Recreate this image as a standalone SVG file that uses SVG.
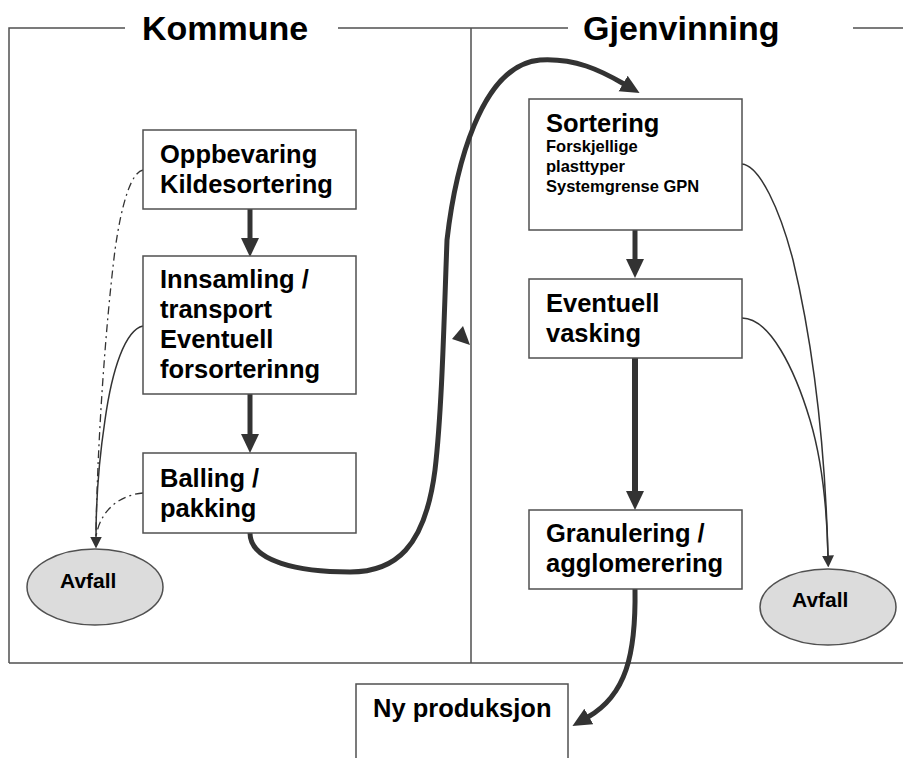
<svg xmlns="http://www.w3.org/2000/svg" width="903" height="758" viewBox="0 0 903 758">
<style>
  .frame{fill:none;stroke:#505050;stroke-width:1.5}
  .box{fill:#fff;stroke:#505050;stroke-width:1.5}
  .ell{fill:#dcdcdc;stroke:#505050;stroke-width:1.5}
  .t{font-family:"Liberation Sans",Arial,sans-serif;font-weight:bold;fill:#000}
  .big{font-size:34px}
  .m{font-size:25.5px}
  .s{font-size:16.5px}
  .av{font-size:21px}
  .thick{fill:none;stroke:#333;stroke-width:5}
  .thin{fill:none;stroke:#333;stroke-width:1.5}
  .dd{fill:none;stroke:#333;stroke-width:1.3;stroke-dasharray:8 4 2 4}
</style>
<defs>
  <marker id="ah" markerUnits="userSpaceOnUse" markerWidth="20" markerHeight="20" viewBox="0 0 20 20" refX="1" refY="10" orient="auto">
    <path d="M0,1 L19,10 L0,19 z" fill="#333"/>
  </marker>
  <marker id="ahs" markerUnits="userSpaceOnUse" markerWidth="12" markerHeight="12" viewBox="0 0 12 12" refX="0.5" refY="6" orient="auto">
    <path d="M0,0 L12,6 L0,12 z" fill="#333"/>
  </marker>
</defs>

<g id="frame">
  <path class="frame" d="M9,663 L9,28 L125,28 M338,28 L568,28 M853,28 L903,28 M471,28 L471,663 M9,663 L903,663"/>
  <text class="t big" x="142" y="40">Kommune</text>
  <text class="t big" x="583" y="40">Gjenvinning</text>
</g>

<g id="connectors">
  <path class="thick" d="M250,209 L250,239" marker-end="url(#ah)"/>
  <path class="thick" d="M250,394 L250,435" marker-end="url(#ah)"/>
  <path class="thick" d="M635,230 L635,260" marker-end="url(#ah)"/>
  <path class="thick" style="stroke-width:6" d="M635,358 L635,492" marker-end="url(#ah)"/>
  <path class="thick" d="M250,533 C250,562 300,572 350,572 C395,572 425,548 435,470 C442,410 444,320 447,240 C455,170 480,65 540,60 C575,58 600,70 624,84" marker-end="url(#ah)"/>
  <path class="thick" d="M635,589 C636,655 626,695 588,717" marker-end="url(#ah)"/>
  <polygon points="452,339 463,326 470,345" fill="#333"/>
  <path class="dd" d="M143,170 C132,172 122,200 115,250 C105,330 97,450 96,537"/>
  <path class="thin" d="M143,326 C125,330 112,370 105,420 C99,460 96,500 96,537" marker-end="url(#ahs)"/>
  <path class="dd" d="M143,493 C120,495 100,510 96,537"/>
  <path class="thin" d="M742,164 C760,166 780,210 793,260 C812,340 825,440 828,556" marker-end="url(#ahs)"/>
  <path class="thin" d="M742,318 C770,318 795,370 810,420 C822,460 827,510 828,556"/>
</g>

<g id="oppbevaring">
  <rect class="box" x="143" y="130" width="213" height="79"/>
  <text class="t m" x="160" y="163">Oppbevaring</text>
  <text class="t m" x="160" y="193">Kildesortering</text>
</g>
<g id="innsamling">
  <rect class="box" x="143" y="256" width="213" height="138"/>
  <text class="t m" x="160" y="288">Innsamling /</text>
  <text class="t m" x="160" y="318">transport</text>
  <text class="t m" x="160" y="348">Eventuell</text>
  <text class="t m" x="160" y="378">forsorterinng</text>
</g>
<g id="balling">
  <rect class="box" x="143" y="453" width="213" height="80"/>
  <text class="t m" x="160" y="487">Balling /</text>
  <text class="t m" x="160" y="517">pakking</text>
</g>
<g id="avfall-left">
  <ellipse class="ell" cx="95" cy="587" rx="68" ry="38"/>
  <text class="t av" x="60" y="588">Avfall</text>
</g>
<g id="sortering">
  <rect class="box" x="529" y="99" width="213" height="131"/>
  <text class="t m" x="546" y="132">Sortering</text>
  <text class="t s" x="546" y="152">Forskjellige</text>
  <text class="t s" x="546" y="172">plasttyper</text>
  <text class="t s" x="546" y="192">Systemgrense GPN</text>
</g>
<g id="vasking">
  <rect class="box" x="529" y="279" width="213" height="79"/>
  <text class="t m" x="546" y="312">Eventuell</text>
  <text class="t m" x="546" y="342">vasking</text>
</g>
<g id="granulering">
  <rect class="box" x="529" y="510" width="213" height="79"/>
  <text class="t m" x="546" y="542">Granulering /</text>
  <text class="t m" x="546" y="572">agglomerering</text>
</g>
<g id="avfall-right">
  <ellipse class="ell" cx="828" cy="607" rx="68" ry="38"/>
  <text class="t av" x="792" y="607">Avfall</text>
</g>
<g id="nyproduksjon">
  <rect class="box" x="356" y="684" width="212" height="90"/>
  <text class="t m" x="373" y="717">Ny produksjon</text>
</g>
</svg>
